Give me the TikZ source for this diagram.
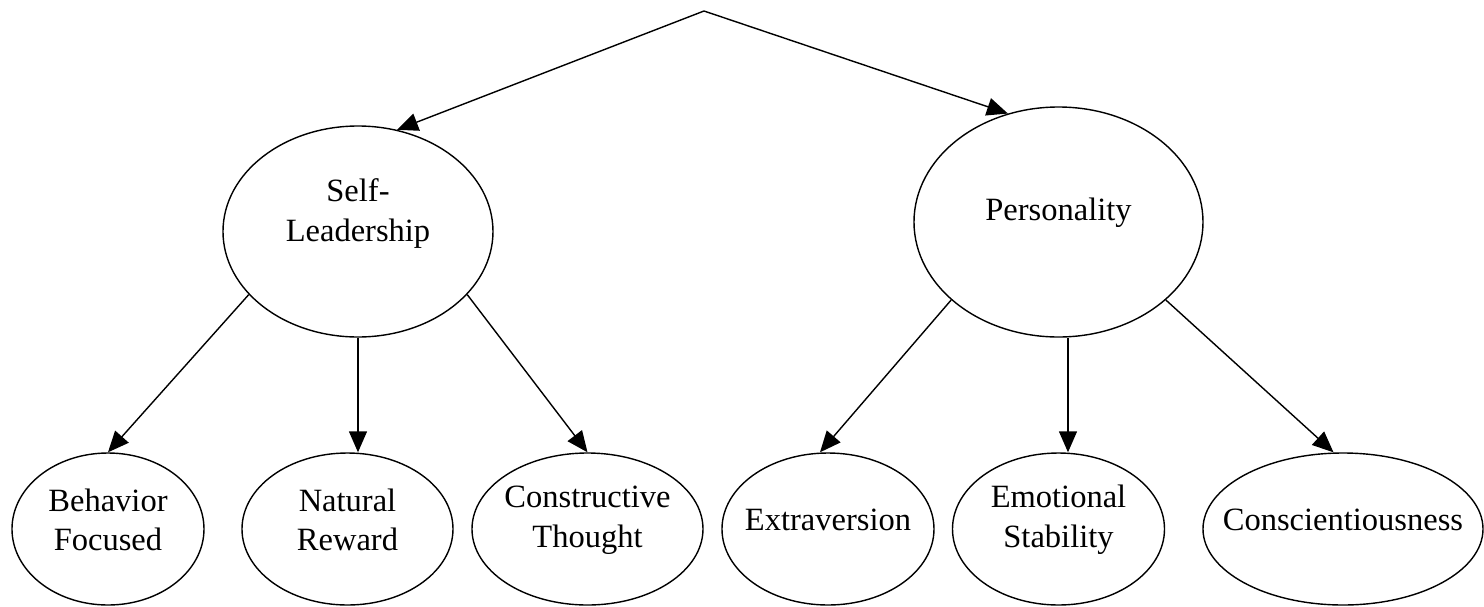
\documentclass[tikz,border=0pt]{standalone}
\usepackage{fontspec}
\setmainfont{Liberation Serif}
\usetikzlibrary{arrows.meta,shapes.geometric}

\begin{document}
\begin{tikzpicture}[thick, >={Triangle[length=0.42cm,width=0.36cm]},
    oval/.style={draw, ellipse, inner sep=0pt},
    lbl/.style={align=center, font=\fontsize{18.5}{22.6}\selectfont, yshift=0.18cm}]
  \useasboundingbox (-14.08,0.22) rectangle (15.6,-11.9);
  \coordinate (top) at (0,0);

  % second level
  \node[oval, minimum width=5.4cm, minimum height=4.22cm, xshift=-6.92cm, yshift=-4.41cm,
    label={[lbl, yshift=0.18cm]center:{Self-\\Leadership}}] (sl) {};
  \node[oval, minimum width=5.78cm, minimum height=4.6cm, xshift=7.09cm, yshift=-4.22cm,
    label={[lbl]center:Personality}] (pe) {};

  % bottom level
  \node[oval, minimum width=3.84cm, minimum height=3.04cm, xshift=-11.92cm, yshift=-10.36cm,
    label={[lbl]center:{Behavior\\Focused}}] (bf) {};
  \node[oval, minimum width=4.22cm, minimum height=3.04cm, xshift=-7.13cm, yshift=-10.36cm,
    label={[lbl]center:{Natural\\Reward}}] (nr) {};
  \node[oval, minimum width=4.62cm, minimum height=3.04cm, xshift=-2.33cm, yshift=-10.36cm,
    label={[lbl]center:{Constructive\\Thought}}] (ct) {};
  \node[oval, minimum width=4.24cm, minimum height=3.04cm, xshift=2.48cm, yshift=-10.36cm,
    label={[lbl]center:Extraversion}] (ex) {};
  \node[oval, minimum width=4.24cm, minimum height=3.04cm, xshift=7.09cm, yshift=-10.36cm,
    label={[lbl]center:{Emotional\\Stability}}] (es) {};
  \node[oval, minimum width=5.6cm, minimum height=3.04cm, xshift=12.78cm, yshift=-10.36cm,
    label={[lbl]center:Conscientiousness}] (co) {};

  \path[->]
    (top) edge (sl.69)
    (top) edge (pe.115)

    (sl.210) edge (bf.north)
    (sl.south) edge (sl.south |- nr.north)
    (sl.-30) edge (ct.north)

    (pe.216) edge ([xshift=-0.16cm]ex.north)
    ([xshift=0.19cm]pe.south) edge ([xshift=0.19cm]pe.south |- es.north)
    (pe.-36) edge ([xshift=-0.19cm]co.north);
\end{tikzpicture}
\end{document}
